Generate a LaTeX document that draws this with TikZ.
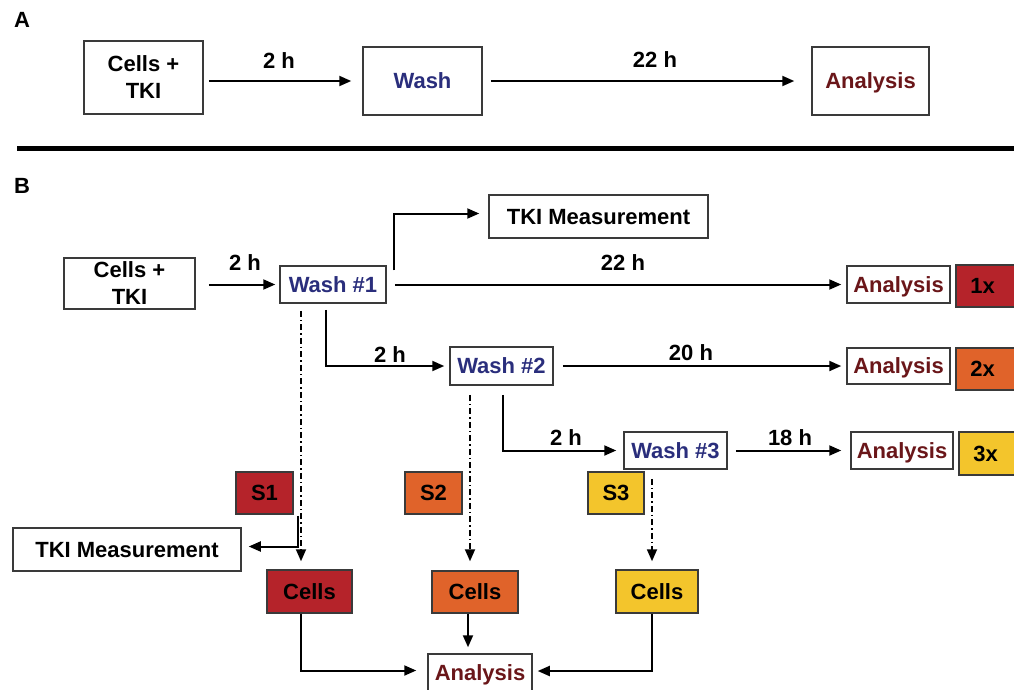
\documentclass[tikz,border=0pt]{standalone}
\usepackage{fontspec}
\setmainfont{Liberation Sans}
\usetikzlibrary{arrows.meta,calc}
\definecolor{cred}{HTML}{B5232A}
\definecolor{corange}{HTML}{E0632A}
\definecolor{cyellow}{HTML}{F3C52C}
\definecolor{cnavy}{HTML}{2A2E7C}
\definecolor{cana}{HTML}{6A1619}
\definecolor{boxgray}{HTML}{3A3A3A}
\begin{document}
\begin{tikzpicture}[x=1pt,y=-1pt,
  font=\fontsize{22}{27}\selectfont\bfseries,
  box/.style={draw=boxgray, line width=1.5pt, fill=white, inner sep=0pt, align=center},
  capc/.style={text height=15.7pt, text depth=0pt},
  arr/.style={line width=2pt, -{Triangle[length=12pt,width=10pt]}},
  dd/.style={line width=1.8pt, dash pattern=on 6pt off 3pt on 1.5pt off 3pt, -{Triangle[length=12pt,width=10pt]}},
  lbl/.style={inner sep=0pt, capc},
  wash/.style={text=cnavy},
  ana/.style={text=cana}]
\clip (0,0) rectangle (1014,689);
\fill[white] (0,0) rectangle (1014,689);

% Panel labels
\node[lbl] (labA) at (22,20) {A};
\node[lbl] (labB) at (22,186) {B};

% ---------- Panel A ----------
\node[box, minimum width=119pt, minimum height=73pt] (aCells) at (143.5,77.5) {Cells +\\TKI};
\node[box, capc, wash, minimum width=119pt, minimum height=68pt] (aWash) at (422.5,81) {Wash};
\node[box, capc, ana, minimum width=117pt, minimum height=68pt] (aAna) at (870.5,81) {Analysis};
\draw[arr, shorten <=5pt, shorten >=11pt] (aCells.east |- aWash.west) -- (aWash.west);
\draw[arr, shorten <=8pt, shorten >=17pt] (aWash.east) -- (aAna.west);
\node[lbl] (tA1) at (279,61) {2 h};
\node[lbl] (tA2) at (655,60) {22 h};

% separator
\coordinate (sepL) at (17,148.5);
\coordinate (sepR) at (1020,148.5);
\draw[line width=5pt] (sepL) -- (sepR);

% ---------- Panel B ----------
\node[box, minimum width=131pt, minimum height=51pt] (bCells) at (129.5,283.5) {Cells +\\TKI};
\node[box, capc, wash, minimum width=106pt, minimum height=37pt] (w1) at (333,284.5) {Wash \#1};
\node[box, capc, minimum width=219pt, minimum height=43pt] (tkiTop) at (598.5,216.5) {TKI Measurement};
\node[box, capc, ana, minimum width=103pt, minimum height=37pt] (an1) at (898.5,284.5) {Analysis};
\node[box, capc, fill=cred, minimum width=62pt, minimum height=42pt] (x1) at (987,286) {1x\hspace{9pt}};

\node[box, capc, wash, minimum width=103pt, minimum height=38pt] (w2) at (501.5,366) {Wash \#2};
\node[box, capc, ana, minimum width=103pt, minimum height=36pt] (an2) at (898.5,366) {Analysis};
\node[box, capc, fill=corange, minimum width=62pt, minimum height=42pt] (x2) at (987,369) {2x\hspace{9pt}};

\node[box, capc, wash, minimum width=103pt, minimum height=37pt] (w3) at (675.5,450.5) {Wash \#3};
\node[box, capc, ana, minimum width=102pt, minimum height=37pt] (an3) at (902,450.5) {Analysis};
\node[box, capc, fill=cyellow, minimum width=62pt, minimum height=43pt] (x3) at (990,453.5) {3x\hspace{9pt}};

\node[box, capc, fill=cred, minimum width=57pt, minimum height=42pt] (s1) at (264.5,493) {S1};
\node[box, capc, fill=corange, minimum width=57pt, minimum height=42pt] (s2) at (433.5,493) {S2};
\node[box, capc, fill=cyellow, minimum width=56pt, minimum height=42pt] (s3) at (616,493) {S3};

\node[box, capc, minimum width=228pt, minimum height=43pt] (tkiBot) at (127,549.5) {TKI Measurement};

\node[box, capc, fill=cred, minimum width=85pt, minimum height=43pt] (c1) at (309.5,591.5) {Cells};
\node[box, capc, fill=corange, minimum width=86pt, minimum height=42pt] (c2) at (475,592) {Cells};
\node[box, capc, fill=cyellow, minimum width=82pt, minimum height=43pt] (c3) at (657,591.5) {Cells};

\node[box, capc, ana, minimum width=104pt, minimum height=37pt] (anB) at (480,672.5) {Analysis};

% connectors
\draw[arr, shorten <=13pt, shorten >=4pt] (bCells.east |- w1.west) -- (w1.west);
\node[lbl] (tB1) at (245,263) {2 h};

\draw[arr, shorten >=9pt] ([xshift=7pt,yshift=-5pt]w1.north east) |- ([yshift=3pt]tkiTop.west);

\draw[arr, shorten <=8pt, shorten >=5pt] (w1.east) -- (an1.west);
\node[lbl] (tB2) at (623,263) {22 h};

\draw[arr, shorten <=6pt, shorten >=5pt] ([xshift=-7pt]w1.south) |- (w2.west);
\node[lbl] (tB3) at (390,355) {2 h};

\draw[arr, shorten <=9pt, shorten >=5pt] (w2.east) -- (an2.west);
\node[lbl] (tB4) at (691,353) {20 h};

\draw[arr, shorten <=9pt, shorten >=7pt] ([xshift=1.5pt]w2.south) |- (w3.west);
\node[lbl] (tB5) at (566,438) {2 h};

\draw[arr, shorten <=8pt, shorten >=9pt] (w3.east) -- (an3.west);
\node[lbl] (tB6) at (790,438) {18 h};

% dash-dot sample lines
\draw[dd, shorten <=7pt, shorten >=8pt] ([xshift=-8.5pt]c1.north |- w1.south) -- ([xshift=-8.5pt]c1.north);
\draw[dd, shorten <=9pt, shorten >=9pt] ([xshift=-5pt]c2.north |- w2.south) -- ([xshift=-5pt]c2.north);
\draw[dd, shorten <=9pt, shorten >=8pt] ([xshift=-5pt]c3.north |- w3.south) -- ([xshift=-5pt]c3.north);

% S1 -> TKI measurement
\draw[arr, shorten <=1pt, shorten >=7pt] ([xshift=4pt]s1.south east) |- ([yshift=3pt]tkiBot.east);

% cells -> analysis
\draw[arr, shorten >=11pt] ([xshift=-8.5pt]c1.south) |- ([yshift=2pt]anB.west);
\draw[arr, shorten >=6pt] ([xshift=-7pt]c2.south) -- ([xshift=-7pt]c2.south |- anB.north);
\draw[arr, shorten >=5pt] ([xshift=-5pt]c3.south) |- ([yshift=1.5pt]anB.east);
\end{tikzpicture}
\end{document}
